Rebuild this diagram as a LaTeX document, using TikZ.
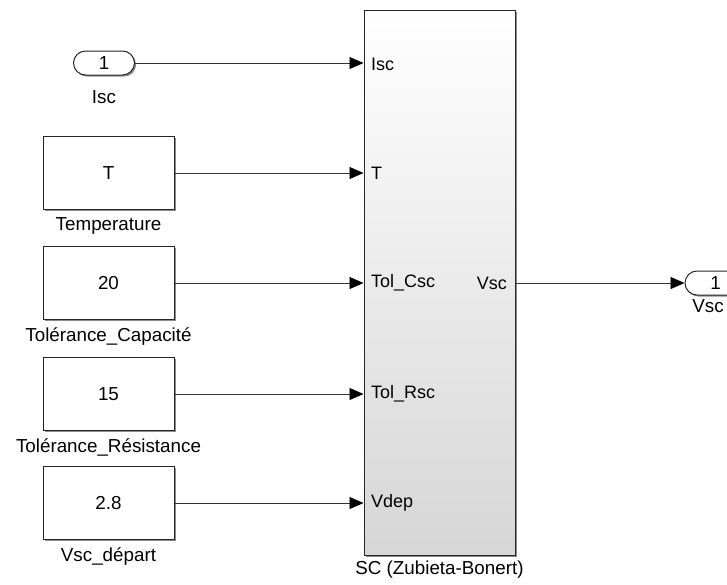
\documentclass[tikz,border=0pt]{standalone}
\usepackage{fontspec}
\setmainfont{Liberation Sans}
\usetikzlibrary{arrows.meta,shapes.misc,shadows}
\begin{document}
\begin{tikzpicture}[x=1pt,y=-1pt,
  txt/.style={font=\fontsize{18.8}{21}\selectfont, inner sep=0pt},
  ptxt/.style={font=\fontsize{18}{20}\selectfont, inner sep=0pt},
  shad/.style={drop shadow={shadow xshift=1.6pt, shadow yshift=-1.6pt, fill=black!45, opacity=1}},
  constblk/.style={txt, draw=black!85, line width=1pt, fill=white, shad,
    minimum width=131pt, minimum height=73pt},
  portblk/.style={txt, rounded rectangle, draw=black!85, line width=1pt, fill=white, shad,
    minimum width=61pt, minimum height=24pt},
  subsys/.style={draw=black!85, line width=1pt, top color=white, bottom color=black!16,
    shad, minimum width=151pt, minimum height=545pt, inner sep=0pt},
  wire/.style={draw=black!80, line width=0.9pt},
  sig/.style={wire, -{Triangle[length=14pt,width=12pt,color=black]}}
]
\useasboundingbox (0,0) rectangle (727,584);

% subsystem block and its port labels
\node[subsys] (sc) at (439.5,282.5) {};
\node[txt, anchor=north] (sclbl) at (439.5,561) {SC (Zubieta-Bonert)};
\node[ptxt, anchor=west] (pisc) at (371,64) {Isc};
\node[ptxt, anchor=west] (pt) at (371,173) {T};
\node[ptxt, anchor=west] (pcsc) at (371,283) {Tol\_Csc};
\node[ptxt, anchor=west] (prsc) at (371,394) {Tol\_Rsc};
\node[ptxt, anchor=west] (pdep) at (371,503) {Vdep};
\node[ptxt, anchor=east] (pvsc) at (507,283) {Vsc};

% inport
\node[portblk] (in) at (104,63) {1};
\node[txt, anchor=north] (inlbl) at (104,90) {Isc};

% constants
\node[constblk] (ct) at (108.5,173) {T};
\node[txt, anchor=north] (ctlbl) at (108.5,217) {Temperature};
\node[constblk] (cc) at (108.5,283) {20};
\node[txt, anchor=north] (cclbl) at (108.5,327) {Tolérance\_Capacité};
\node[constblk] (cr) at (108.5,394) {15};
\node[txt, anchor=north] (crlbl) at (108.5,438) {Tolérance\_Résistance};
\node[constblk] (cd) at (108.5,503) {2.8};
\node[txt, anchor=north] (cdlbl) at (108.5,547) {Vsc\_départ};

% outport
\node[portblk] (out) at (715.5,283) {1};
\node[txt, anchor=north] (outlbl) at (708,299) {Vsc};

% signal lines
\draw[sig] (in.east) -- (sc.west |- in.east);
\draw[sig] (ct.east) -- (sc.west |- ct.east);
\draw[sig] (cc.east) -- (sc.west |- cc.east);
\draw[sig] (cr.east) -- (sc.west |- cr.east);
\draw[sig] (cd.east) -- (sc.west |- cd.east);
\draw[sig] (sc.east |- out.west) -- (out.west);
\end{tikzpicture}
\end{document}
